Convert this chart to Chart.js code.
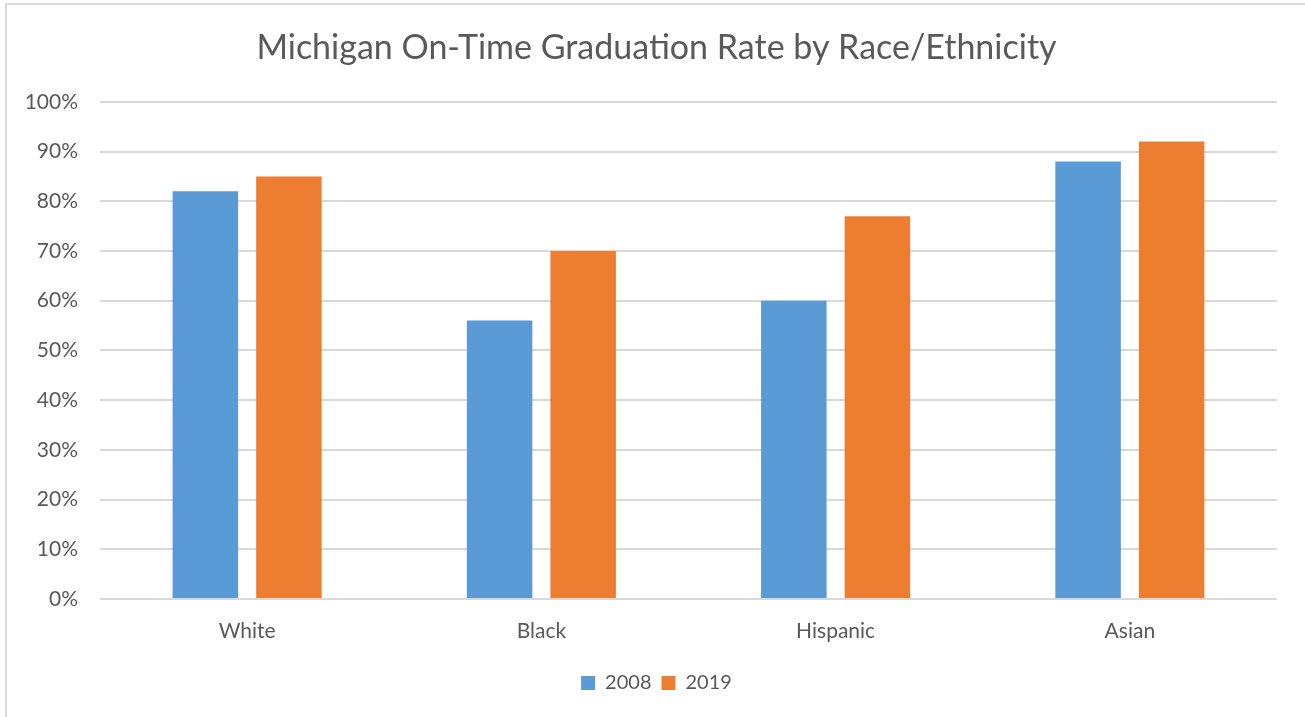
<!DOCTYPE html>
<html>
<head>
<meta charset="utf-8">
<script src="https://cdn.jsdelivr.net/npm/chart.js@4.4.1/dist/chart.umd.min.js"></script>
<style>
  html, body { margin: 0; padding: 0; background: #ffffff; overflow: hidden; }
  #frame { position: absolute; left: 5px; top: 3px; width: 1400px; height: 800px;
           border: 2px solid #d9d9d9; box-sizing: border-box; }
  #chart { position: absolute; left: 0; top: 0; }
</style>
</head>
<body>
<div id="frame"></div>
<canvas id="chart" width="1305" height="717"></canvas>
<script>
// Michigan on-time graduation rates (%) by race/ethnicity
const categories = ['White', 'Black', 'Hispanic', 'Asian'];
const rates2008 = [82, 56, 60, 88];
const rates2019 = [85, 70, 77, 92];
const seriesLabels = ['2008', '2019'];
const yTicks = [0, 10, 20, 30, 40, 50, 60, 70, 80, 90, 100];

const textColor = '#595959';
const gridColor = '#d9d9d9';
const fontFamily = 'Lato, "Open Sans", sans-serif';

new Chart(document.getElementById('chart'), {
  type: 'bar',
  data: {
    labels: categories,
    datasets: [
      { label: seriesLabels[0], data: rates2008, backgroundColor: '#5b9bd5',
        barPercentage: 0.784, categoryPercentage: 0.568 },
      { label: seriesLabels[1], data: rates2019, backgroundColor: '#ed7d31',
        barPercentage: 0.784, categoryPercentage: 0.568 }
    ]
  },
  options: {
    responsive: false,
    animation: false,
    layout: { padding: { left: 8, right: 0, top: 0, bottom: 14 } },
    plugins: {
      title: {
        display: true,
        text: 'Michigan On-Time Graduation Rate by Race/Ethnicity',
        color: textColor,
        font: { family: fontFamily, size: 34, weight: 'normal' },
        padding: { top: 28, bottom: 33 }
      },
      legend: {
        position: 'bottom',
        labels: {
          color: textColor,
          font: { family: fontFamily, size: 20 },
          boxWidth: 14, boxHeight: 14, padding: 10
        }
      },
      tooltip: { enabled: false }
    },
    scales: {
      x: {
        grid: { display: false },
        border: { display: false },
        ticks: { color: textColor, font: { family: fontFamily, size: 21 }, padding: 12 },
        afterFit: s => { s.height = 64; }
      },
      y: {
        min: 0, max: 100,
        afterBuildTicks: s => { s.ticks = yTicks.map(v => ({ value: v })); },
        grid: { color: gridColor, lineWidth: 2, drawTicks: false },
        border: { display: false },
        ticks: { color: textColor, font: { family: fontFamily, size: 21 }, padding: 22,
                 callback: v => v + '%' },
        afterFit: s => { s.width = 92; }
      },
      yRight: {
        position: 'right',
        display: true,
        grid: { display: false },
        border: { display: false },
        ticks: { display: false },
        afterFit: s => { s.width = 28; }
      }
    }
  }
});
</script>
</body>
</html>
